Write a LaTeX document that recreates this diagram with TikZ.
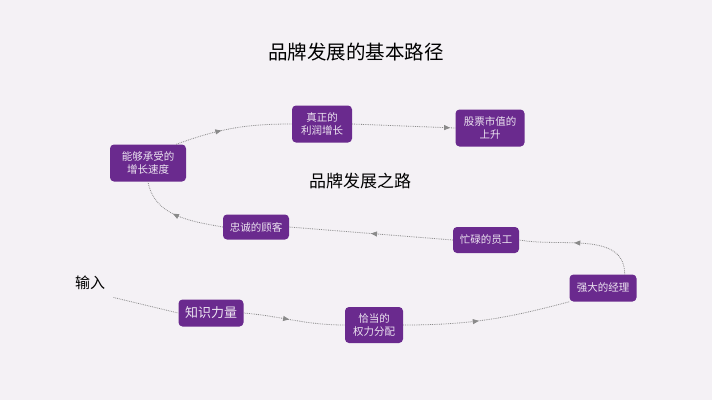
\documentclass[tikz,border=0pt]{standalone}
\usepackage{fontspec}
\setmainfont{Noto Sans CJK SC}
\usetikzlibrary{decorations.markings,arrows.meta}
\definecolor{bg}{HTML}{F4F1F5}
\definecolor{boxc}{HTML}{6A2A8E}
\definecolor{lnc}{HTML}{8A8A8A}
\tikzset{
 box/.style={fill=boxc,rounded corners=4pt,text=white!88!boxc,font=\fontsize{10.5}{13}\selectfont,align=center,inner sep=0pt},
 conn/.style={draw=lnc,densely dotted,line width=0.8pt,postaction={decorate},
   decoration={markings,mark=at position #1 with {\arrow[lnc,solid]{Triangle[length=6pt,width=5pt]}}}},
 conn/.default=0.5,
 plain/.style={draw=lnc,densely dotted,line width=0.8pt}
}
\begin{document}
\begin{tikzpicture}[x=1pt,y=-1pt]
\fill[bg] (0,0) rectangle (712,400);
\useasboundingbox (0,0) rectangle (712,400);
\node (title) at (356,52) {\fontsize{19.5}{22}\selectfont 品牌发展的基本路径};
\node (sub) at (360,181) {\fontsize{17}{19}\selectfont 品牌发展之路};
\node (in) at (90,283) {\fontsize{15}{17}\selectfont 输入};
\node[box,minimum width=60pt,minimum height=37pt] (zz) at (322,124) {真正的\\利润增长};
\node[box,minimum width=69pt,minimum height=37pt] (gp) at (490,128) {股票市值的\\上升};
\node[box,minimum width=76pt,minimum height=37pt] (ng) at (148,163) {能够承受的\\增长速度};
\node[box,minimum width=66pt,minimum height=25pt] (zc) at (256,227) {忠诚的顾客};
\node[box,minimum width=66pt,minimum height=26pt] (ml) at (486,240) {忙碌的员工};
\node[box,minimum width=65pt,minimum height=27pt,font=\fontsize{13}{15}\selectfont] (zs) at (211,313) {知识力量};
\node[box,minimum width=58pt,minimum height=36pt] (qd) at (374,325) {恰当的\\权力分配};
\node[box,minimum width=67pt,minimum height=27pt] (qj) at (603,288) {强大的经理};
\path[plain] (in.south east) ++(5,4) -- (zs.west);
\path[conn=0.45] (zs.east) to[out=-5,in=180] (qd.west);
\path[conn=0.45] (qd.east) to[out=0,in=-165] (qj.south west);
\path[conn=0.55] (qj.north east) ++(-12,0) to[out=90,in=-10] (ml.east);
\path[conn=0.5] (ml.west) -- (zc.east);
\path[conn=0.55] (zc.west) to[out=170,in=-80] (ng.south);
\path[conn=0.4] (ng.north east) ++(-10,0) to[out=20,in=180] (zz.west);
\path[conn=0.95] (zz.east) -- (gp.west);
\end{tikzpicture}
\end{document}
